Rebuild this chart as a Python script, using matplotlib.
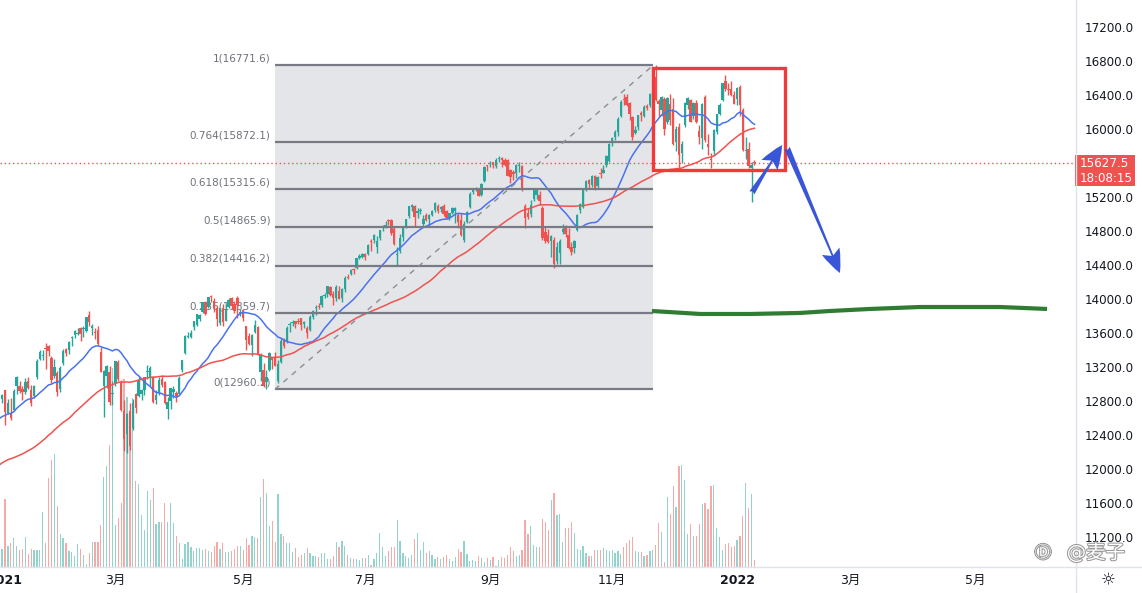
import matplotlib
matplotlib.use("Agg")
import matplotlib.pyplot as plt
import numpy as np
import pandas as pd
from matplotlib.patches import Rectangle, FancyArrowPatch
from matplotlib.lines import Line2D
import matplotlib.patheffects as pe
from matplotlib.transforms import blended_transform_factory

plt.rcParams['font.family'] = ['DejaVu Sans', 'Noto Sans CJK SC']

# ---------------- data (NQ daily, Dec 31 2020 .. Jan 11 2022) ----------------
# closes before the visible window (Oct 6 - Dec 30 2020), used only for the moving averages
pre_closes = [11364, 11564, 11664, 11915, 12250, 12208, 12085, 12020, 11937, 11732,
              11770, 11757, 11781, 11790, 11660, 11745, 11313, 11543, 11052,
              11139, 11347, 11779, 12024, 12013, 11621, 11439, 11762, 11706, 11829,
              11900, 11883, 11791, 11880, 11804, 11853, 12013, 12087, 12169, 12268,
              12404, 12398, 12394, 12465, 12527, 12553, 12297, 12339, 12377, 12440,
              12595, 12678, 12764, 12756, 12742, 12808, 12771, 12805, 12899, 12850, 12845]

opens = [12850,
    12958,12680,12666,12720,13000,13000,12960,12930,13060,12950,12880,13100,13320,13350,13450,13470,13330,13120,13150,
    12970,13270,13430,13420,13560,13600,13610,13680,13670,13650,13840,13680,13620,13660,13400,13000,13120,13160,12900,
    13040,13280,13050,12710,12440,12700,12500,12910,12880,12910,12950,13160,13100,13100,12830,12920,13080,13050,12730,12820,12930,12920,12910,
    13190,13390,13580,13580,13690,13720,13790,13870,13990,13930,14060,14000,13920,13740,13920,13770,13930,14040,13960,14030,13860,
    13890,13700,13590,13480,13640,13690,13160,13190,13050,13190,13330,13340,13060,13280,13550,13520,13720,13740,13760,13770,
    13800,13730,13680,13660,13810,13920,13940,13950,14060,14080,14170,14080,14040,14120,14030,14140,14280,14320,14380,14390,14510,14520,
    14550,14550,14700,14720,14630,14740,14860,14870,14950,14950,14850,14540,14590,14750,14880,15000,15110,15120,15030,15060,14900,
    15010,14970,15010,15070,15120,15080,15120,15060,14980,15040,15060,15010,14950,14720,14930,15100,15280,15310,15310,15250,15410,15590,
    15610,15630,15590,15670,15680,15660,15660,15540,15520,15500,15590,15590,15120,15040,15020,15200,15250,15250,15090,14810,14780,
    14700,14720,14470,14560,14810,14880,14780,14640,14620,14830,15070,15110,15330,15420,15360,15470,15350,15510,15510,15600,15650,
    15870,15930,15990,16180,16380,16400,16330,16160,15980,16050,16210,16180,16290,16300,16470,16630,16350,16250,16380,16100,16320,
    16260,15870,16050,15740,16070,16310,16370,16180,16330,16000,15920,16400,15850,15660,15760,15990,16200,16360,16590,16490,16490,16420,
    16380,16520,16250,15760,15790,15560,15640]

highs = [12910,
    12958,12850,12864,12970,13120,13060,13000,13090,13100,13010,13010,13320,13420,13420,13500,13480,13350,13320,13180,
    13240,13440,13450,13530,13590,13660,13680,13690,13700,13810,13880,13730,13680,13700,13460,13190,13250,13230,13060,
    13290,13300,13070,12830,12680,12800,12850,12920,13100,12960,13100,13250,13240,13120,12950,13100,13130,13060,12870,12980,13000,12940,13120,
    13310,13600,13640,13660,13760,13850,13850,13990,14000,14050,14070,14030,13940,13920,13970,13960,14030,14050,14000,14060,13910,
    13900,13710,13620,13610,13780,13700,13390,13270,13190,13400,13340,13400,13300,13560,13570,13700,13750,13780,13770,13800,
    13800,13770,13700,13830,13890,13950,13980,14070,14090,14180,14180,14120,14190,14180,14150,14290,14320,14380,14390,14510,14550,14560,
    14560,14670,14730,14790,14760,14840,14890,14940,14970,14960,14880,14640,14790,14860,14970,15120,15140,15130,15090,15090,15010,
    15030,15020,15070,15160,15140,15120,15140,15070,15040,15100,15110,15030,15040,14940,15060,15280,15320,15340,15330,15390,15590,15600,
    15650,15640,15680,15700,15690,15680,15670,15550,15540,15610,15630,15600,15140,15090,15190,15320,15330,15290,15120,14870,14850,
    14780,14750,14690,14730,14900,14890,14860,14690,14720,15020,15150,15320,15420,15440,15480,15480,15470,15560,15600,15720,15860,
    15930,16010,16160,16360,16440,16430,16340,16180,16060,16190,16230,16310,16320,16450,16600,16771,16380,16410,16400,16400,16430,
    16390,16060,16090,15880,16340,16400,16380,16340,16360,16070,16330,16420,15960,15740,16020,16200,16330,16570,16660,16560,16590,16470,
    16520,16540,16270,15930,15870,15640,15660]

lows = [12800,
    12543,12670,12600,12710,12900,12920,12840,12910,12970,12760,12860,13080,13300,13300,13200,13350,13030,13090,12880,
    12930,13250,13350,13380,13470,13560,13600,13530,13580,13640,13710,13600,13550,13480,13160,12640,12980,12780,12780,
    13000,13060,12700,12240,12210,12250,12480,12680,12870,12830,12890,13080,13000,12800,12790,12890,12990,12790,12610,12730,12860,12810,12900,
    13170,13380,13560,13560,13660,13710,13760,13860,13830,13920,13990,13870,13710,13720,13700,13760,13920,13910,13860,13800,13820,
    13760,13420,13480,13350,13620,13370,13060,12990,12960,13180,13200,13230,13030,13270,13450,13510,13640,13710,13680,13730,
    13660,13680,13560,13650,13790,13830,13910,13930,14030,14050,14060,13950,14000,14020,13990,14110,14260,14300,14320,14380,14490,14500,
    14480,14540,14590,14680,14560,14720,14820,14860,14890,14780,14660,14420,14560,14700,14860,14980,15060,14880,14980,15020,14880,
    14940,14880,15000,15050,15040,15050,15000,14960,14950,15020,14920,14860,14770,14690,14920,15090,15260,15290,15230,15240,15400,15530,
    15580,15560,15570,15640,15580,15590,15470,15390,15420,15450,15520,15290,14860,14960,14990,15180,15200,15130,14720,14680,14680,
    14520,14390,14440,14440,14790,14750,14610,14540,14560,14820,15040,15090,15290,15330,15340,15300,15320,15450,15500,15580,15630,
    15820,15890,15940,16160,16300,16290,16130,15890,15970,16010,16120,16170,16250,16280,16460,16350,16170,16180,15950,16080,16070,
    15840,15770,15560,15620,16050,16260,16100,16140,16090,15850,15790,15870,15720,15560,15700,15970,16190,16350,16470,16420,16410,16320,
    16300,16180,15770,15670,15570,15168,15600]

closes = [12888,
    12694,12802,12623,12939,13105,12938,12931,13049,12977,12804,12998,13297,13401,13366,13436,13409,13075,13219,12925,
    13213,13406,13391,13522,13564,13642,13626,13606,13677,13807,13751,13704,13618,13493,13165,13173,13238,12809,12909,
    13289,13080,12723,12376,12669,12299,12795,12742,13071,12948,13101,13175,13210,12807,12896,13069,13008,12801,12814,12977,12967,12880,13091,
    13301,13589,13588,13626,13759,13845,13830,13985,13848,14041,14042,13915,13786,13919,13750,13900,14017,13946,13880,13951,13860,
    13795,13544,13495,13596,13719,13379,13361,12997,13110,13389,13306,13232,13259,13524,13471,13677,13720,13758,13734,13749,
    13722,13756,13619,13815,13882,13924,13925,14055,14069,14173,14072,14040,14161,14029,14141,14271,14271,14370,14360,14500,14528,14554,
    14522,14662,14690,14781,14704,14837,14882,14897,14939,14804,14676,14558,14743,14856,14965,15115,15133,14985,15056,15061,14959,
    14957,15012,15058,15152,15062,15104,15025,14980,15030,15097,15090,14934,14778,14904,15041,15258,15303,15329,15232,15374,15579,15583,
    15612,15597,15653,15686,15661,15598,15475,15459,15491,15602,15605,15301,14978,14991,15130,15305,15316,15180,14737,14704,14689,
    14767,14433,14631,14711,14847,14787,14625,14579,14709,15011,15146,15306,15412,15374,15474,15320,15456,15493,15536,15711,15850,
    15913,15983,16143,16346,16366,16311,16198,15935,16010,16183,16184,16285,16265,16440,16573,16362,16323,16400,16025,16383,16135,
    15851,16023,15712,15848,16326,16390,16108,16331,16103,15933,16312,15895,15813,15654,16016,16196,16300,16567,16488,16480,16421,16320,
    16502,16301,15773,15769,15589,15598,15627.5]

# volume (relative units)
volumes = [18, 68, 21, 24, 29, 21, 17, 18, 30, 13, 18, 17, 17, 17, 55, 24, 89, 107, 113, 61,
    33, 29, 24, 16, 15, 11, 23, 18, 12, 3, 14, 25, 25, 25, 42, 90, 101, 122, 199, 42,
    49, 64, 188, 170, 140, 169, 86, 83, 52, 37, 76, 67, 79, 43, 45, 45, 64, 45, 64, 44,
    31, 24, 8, 23, 25, 20, 16, 19, 19, 17, 18, 16, 15, 21, 25, 18, 24, 15, 15, 16,
    18, 21, 21, 17, 29, 22, 31, 30, 29, 70, 88, 74, 41, 46, 25, 73, 33, 31, 24, 24,
    15, 19, 10, 12, 14, 19, 14, 11, 11, 10, 14, 14, 8, 8, 11, 25, 20, 26, 21, 12,
    9, 8, 8, 7, 9, 9, 12, 2, 8, 14, 34, 20, 11, 16, 20, 20, 47,
    26, 14, 11, 9, 12, 28, 34, 17, 25, 14, 16, 12, 8, 10, 8, 10, 12, 8, 6, 10,
    18, 15, 26, 13, 6, 7, 6, 11, 9, 5, 9, 7, 10, 1, 7, 10, 9, 12, 20, 16,
    11, 12, 17, 47, 33, 41, 22, 20, 20, 48, 45, 37, 67, 74, 52, 53, 25, 39, 39, 45,
    34, 18, 17, 21, 14, 11, 11, 17, 17, 17, 19, 17, 16, 17, 14, 16, 13, 20, 24, 27,
    30, 16, 15, 15, 11, 12, 16, 17, 22, 44, 35, 5, 70, 53, 81, 60, 101, 102, 87, 33,
    43, 31, 31, 43, 63, 64, 58, 81, 82, 39, 30, 17, 23, 24, 20, 21, 27, 31, 51, 84,
    59, 73, 7]

holidays = ["2021-01-01", "2021-01-18", "2021-02-15", "2021-04-02", "2021-05-31", "2021-07-05",
            "2021-09-06", "2021-11-25", "2021-12-24", "2022-01-17", "2022-02-21", "2022-04-15",
            "2022-05-30"]
month_ticks = [("2021-01-01", "2021", True), ("2021-03-01", "3月", False), ("2021-05-01", "5月", False),
               ("2021-07-01", "7月", False), ("2021-09-01", "9月", False), ("2021-11-01", "11月", False),
               ("2022-01-01", "2022", True), ("2022-03-01", "3月", False), ("2022-05-01", "5月", False)]
price_ticks = [17200, 16800, 16400, 16000, 15200, 14800, 14400, 14000, 13600, 13200, 12800,
               12400, 12000, 11600, 11200]
last_price = 15627.5
countdown = "18:08:15"

# Fibonacci retracement drawing (anchors: bar position, price)
fib_start, fib_end = 92.9, 223.1
fib_low, fib_high = 12960.2, 16771.6
fib_ratios = [1, 0.764, 0.618, 0.5, 0.382, 0.236, 0]
# user drawings
box_x = (223.1, 268.5)
box_y = (15541, 16741)
arrow_up = ((257.1, 15271), (267.5, 15835))
arrow_down = ((269.2, 15800), (287.4, 14329))
green_x = [222.7, 239.3, 256.5, 273.7, 284.0, 297.8, 315.0, 342.5, 358.7]
green_y = [13882, 13847, 13847, 13859, 13882, 13906, 13929, 13929, 13906]

# ---------------- drawing ----------------
GREEN = '#26a69a'
RED = '#ef5350'
W, H = 1142, 593
fig = plt.figure(figsize=(W / 100, H / 100), dpi=100)
fig.patch.set_facecolor('white')

pane = [0, 26 / H, 1075 / W, 567 / H]
axv = fig.add_axes(pane)
ax = fig.add_axes(pane)
ax.patch.set_alpha(0)
XL = (-1.72, 368.33)
YL = (10870, 17541)
for a in (ax, axv):
    a.set_xlim(*XL)
    a.axis('off')
ax.set_ylim(*YL)

n = min(len(opens), len(highs), len(lows), len(closes))
o = np.array(opens[:n], float); h = np.array(highs[:n], float)
l = np.array(lows[:n], float); c = np.array(closes[:n], float)
x = np.arange(n) - 1
up = c >= o
cols = np.where(up, GREEN, RED)

# volume
nv = min(len(volumes), n)
vcols = np.where(up[:nv], '#93d3cd', '#f7a9a8')
axv.set_ylim(0, 567)
axv.bar(x[:nv], volumes[:nv], width=0.42, color=vcols, linewidth=0)

# fib background
ax.add_patch(Rectangle((fib_start, fib_low), fib_end - fib_start, fib_high - fib_low,
                       facecolor='#e4e5e8', edgecolor='none', zorder=1))
for r in fib_ratios:
    lev = fib_low + r * (fib_high - fib_low)
    ax.plot([fib_start, fib_end], [lev, lev], color='#787b86', lw=1.6, zorder=5,
            solid_capstyle='butt')
    lab = ("%g" % r) + "(%.1f)" % lev
    ax.annotate(lab, xy=(fib_start, lev), xytext=(-3, 1.2), textcoords='offset points',
                ha='right', va='bottom', fontsize=7.5, color='#6f727d', zorder=2)
ax.plot([fib_start, fib_end], [fib_low, fib_high], color='#8a8d96', lw=1.0,
        linestyle=(0, (4, 4)), zorder=5)

# candles
ax.vlines(x, l, h, colors=cols, lw=1.0, zorder=3)
body_lo = np.minimum(o, c)
body_h = np.maximum(np.abs(c - o), 12)
ax.bar(x, body_h, bottom=body_lo, width=0.82, color=cols, linewidth=0, zorder=4)

# moving averages
all_c = pd.Series(pre_closes + list(c))
xa = np.arange(len(all_c)) - len(pre_closes) - 1
ma20 = all_c.rolling(20).mean().values
ma60 = all_c.rolling(60).mean().values
ax.plot(xa, ma20, color='#4a72f0', lw=1.1, zorder=4.5)
ax.plot(xa, ma60, color='#f0524f', lw=1.1, zorder=4.5)

# last price line
ax.axhline(last_price, color=RED, lw=1.0, linestyle=(0, (1, 2)), zorder=6)

# red box
ax.add_patch(Rectangle((box_x[0], box_y[0]), box_x[1] - box_x[0], box_y[1] - box_y[0],
                       facecolor='none', edgecolor='#f23a3a', lw=2.4, zorder=7))
# arrows
for (p0, p1) in (arrow_up, arrow_down):
    ax.add_patch(FancyArrowPatch(p0, p1, arrowstyle='fancy,head_length=1.0,head_width=0.8,tail_width=0.25',
                                 mutation_scale=17, color='#3a56d8', lw=0, zorder=8,
                                 shrinkA=0, shrinkB=0))
# green line
ax.plot(green_x, green_y, color='#2e7d32', lw=3.0, zorder=6, solid_capstyle='butt')

# separators
fig.add_artist(Line2D([1075.5 / W, 1075.5 / W], [0, 1], color='#e0e3eb', lw=1))
fig.add_artist(Line2D([0, 1], [26 / H, 26 / H], color='#e0e3eb', lw=1))

# price axis labels
tr = blended_transform_factory(ax.transAxes, ax.transData)
for p in price_ticks:
    ax.text(1 + 10 / 1075, p, "%.1f" % p, transform=tr, ha='left', va='center',
            fontsize=8.6, color='#131722', clip_on=False)
fig.patches.append(Rectangle((1075 / W, 1 - 186 / H), 60 / W, 31 / H, transform=fig.transFigure,
                             facecolor=RED, edgecolor='none', figure=fig))
fig.text(1080 / W, 1 - 163.5 / H, "%.1f" % last_price, color='white', fontsize=8.6,
         ha='left', va='center')
fig.text(1080 / W, 1 - 178 / H, countdown, color='white', fontsize=8.6, ha='left', va='center')

# time axis labels
cbd = pd.offsets.CustomBusinessDay(holidays=pd.to_datetime(holidays))
dates = pd.date_range("2020-12-31", periods=420, freq=cbd)
trx = blended_transform_factory(ax.transData, fig.transFigure)
for d0, lab, bold in month_ticks:
    k = int(np.argmax(dates >= pd.Timestamp(d0))) - 1
    ax.text(k, 1 - 580 / H, lab, transform=trx, ha='center', va='center', fontsize=9,
            color='#131722', fontweight='bold' if bold else 'normal', clip_on=False)

# settings icon
fig.text(1108 / W, 1 - 580 / H, "☼", fontsize=12, color='#131722', ha='center', va='center')
# watermark
fig.text(1043 / W, 1 - 553 / H, "Ⓓ", fontsize=12, color='white', ha='center', va='center',
         path_effects=[pe.withStroke(linewidth=1.5, foreground='#9a9a9a')])
fig.text(1096 / W, 1 - 553 / H, "@麦子", fontsize=14, color='white', ha='center', va='center',
         path_effects=[pe.withStroke(linewidth=1.5, foreground='#9a9a9a')])

fig.savefig("out.png", dpi=100)
